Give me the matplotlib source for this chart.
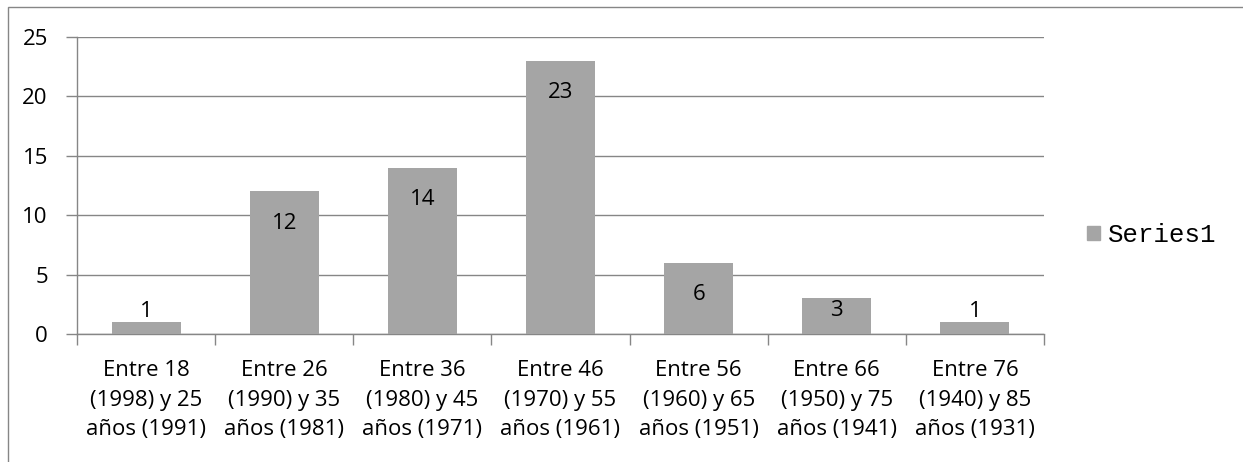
import matplotlib
matplotlib.use('Agg')
import matplotlib.pyplot as plt
import matplotlib.patches as mpatches
import numpy as np

# Data
categories = [
    'Entre 18\n(1998) y 25\naños (1991)',
    'Entre 26\n(1990) y 35\naños (1981)',
    'Entre 36\n(1980) y 45\naños (1971)',
    'Entre 46\n(1970) y 55\naños (1961)',
    'Entre 56\n(1960) y 65\naños (1951)',
    'Entre 66\n(1950) y 75\naños (1941)',
    'Entre 76\n(1940) y 85\naños (1931)',
]
values = [1, 12, 14, 23, 6, 3, 1]
yticks = [0, 5, 10, 15, 20, 25]

bar_color = '#A5A5A5'
line_color = '#868686'
font = 'Open Sans'
fs = 16

fig = plt.figure(figsize=(12.43, 4.62), dpi=100)
ax = fig.add_axes([77 / 1243, 1 - 334 / 462, (1044 - 77) / 1243, (334 - 37) / 462])

x = np.arange(len(categories))
ax.bar(x, values, width=0.5, color=bar_color, zorder=3)

ax.set_xlim(-0.5, len(categories) - 0.5)
ax.set_ylim(0, 25)

# data labels: inside end (kept inside the bar), above when the bar is too short
px_per_unit = ax.get_position().height * fig.get_figheight() * fig.dpi / 25
for xi, v in zip(x, values):
    h = v * px_per_unit
    if h > 30:
        off = -min(32, h - 23)
    else:
        off = 11
    ax.annotate(str(v), (xi, v), xytext=(0, off), textcoords='offset pixels',
                ha='center', va='center', fontsize=fs, family=font, zorder=4)

ax.set_yticks(yticks)
ax.set_yticklabels([str(t) for t in yticks], fontsize=fs, family=font)
ax.yaxis.grid(True, color=line_color, linewidth=1, zorder=0)

# category ticks on boundaries, labels in the middle
ax.set_xticks(np.arange(len(categories) + 1) - 0.5)
ax.set_xticklabels([])
ax.set_xticks(x, minor=True)
ax.set_xticklabels(categories, minor=True, fontsize=fs, family=font, linespacing=1.53)
ax.tick_params(axis='x', which='minor', length=0, pad=19)
ax.tick_params(axis='x', which='major', length=8, color=line_color, width=1)
ax.tick_params(axis='y', length=8, color=line_color, width=1, pad=13)

for side in ['top', 'right']:
    ax.spines[side].set_visible(False)
for side in ['left', 'bottom']:
    ax.spines[side].set_color(line_color)
    ax.spines[side].set_linewidth(1)

handle = mpatches.Patch(color=bar_color, label='Series1')
fig.legend(handles=[handle], loc='center left', bbox_to_anchor=(1087 / 1243, 1 - 235 / 462),
           frameon=False, prop={'family': 'Liberation Mono', 'size': 18.5},
           handlelength=0.5, handleheight=0.5, handletextpad=0.3, borderpad=0,
           borderaxespad=0)

# outer chart border (cut off on right and bottom)
fig.patches.append(mpatches.Rectangle((8 / 1243, -0.05), 1.1, 1 - 7 / 462 + 0.05,
                                      transform=fig.transFigure, fill=False,
                                      edgecolor=line_color, linewidth=1))

fig.savefig('out.png', dpi=100, facecolor='white')
